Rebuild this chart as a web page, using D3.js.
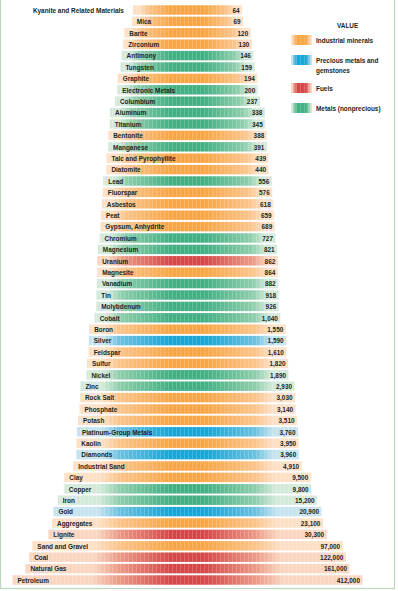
<!DOCTYPE html>
<html>
<head>
<meta charset="utf-8">
<script src="https://cdn.jsdelivr.net/npm/d3@7"></script>
<style>
  html, body { margin: 0; padding: 0; background: #fff; }
  svg { display: block; }
  text { font-family: "Liberation Sans", Arial, sans-serif; }
</style>
</head>
<body>
<svg id="chart" width="398" height="591"></svg>
<script>
// ---- data ----
const categories = [
  "Kyanite and Related Materials", "Mica", "Barite", "Zirconium", "Antimony", "Tungsten",
  "Graphite", "Electronic Metals", "Columbium", "Aluminum", "Titanium", "Bentonite",
  "Manganese", "Talc and Pyrophyllite", "Diatomite", "Lead", "Fluorspar", "Asbestos",
  "Peat", "Gypsum, Anhydrite", "Chromium", "Magnesium", "Uranium", "Magnesite",
  "Vanadium", "Tin", "Molybdenum", "Cobalt", "Boron", "Silver", "Feldspar", "Sulfur",
  "Nickel", "Zinc", "Rock Salt", "Phosphate", "Potash", "Platinum-Group Metals",
  "Kaolin", "Diamonds", "Industrial Sand", "Clay", "Copper", "Iron", "Gold",
  "Aggregates", "Lignite", "Sand and Gravel", "Coal", "Natural Gas", "Petroleum"
];
const values = [
  64, 69, 120, 130, 146, 159,
  194, 200, 237, 338, 345, 388,
  391, 439, 440, 556, 576, 618,
  659, 689, 727, 821, 862, 864,
  882, 918, 926, 1040, 1550, 1590, 1610, 1820,
  1890, 2930, 3030, 3140, 3510, 3760,
  3950, 3960, 4910, 9500, 9800, 15200, 20900,
  23100, 30300, 97000, 122000, 161000, 412000
];
// I = industrial minerals, P = precious metals and gemstones, F = fuels, M = metals (nonprecious)
const groups = [
  "I", "I", "I", "I", "M", "M",
  "I", "M", "M", "M", "M", "I",
  "M", "I", "I", "M", "I", "I",
  "I", "I", "M", "M", "F", "I",
  "M", "M", "M", "M", "I", "P", "I", "I",
  "M", "M", "I", "I", "I", "P",
  "I", "P", "I", "I", "M", "M", "P",
  "I", "F", "I", "F", "F", "F"
];
const legendKeys = ["I", "P", "F", "M"];
const legendLabels = [["Industrial minerals"], ["Precious metals and", "gemstones"], ["Fuels"], ["Metals (nonprecious)"]];
const legendTitle = "VALUE";

// ---- styles ----
const palette = {
  I: { pale: "#fde0c6", mid: "#fbc48a", core: "#f8a645" },
  P: { pale: "#c6e4ef", mid: "#6ec1e0", core: "#17a6d6" },
  F: { pale: "#fad6c0", mid: "#eb9a86", core: "#d6474a" },
  M: { pale: "#d3eadb", mid: "#8fceac", core: "#43b084" }
};

const data = categories.map((c, i) => ({ name: c, value: values[i], group: groups[i], idx: i }));

const svg = d3.select("#chart");
const defs = svg.append("defs");

// border
svg.append("rect")
  .attr("x", 0.5).attr("y", -2)
  .attr("width", 394).attr("height", 590.5)
  .attr("fill", "none").attr("stroke", "#bcd6c0").attr("stroke-width", 1.2);

const cx = 187.5;
const wScale = d3.scaleLog().domain([1.2, 412000]).range([0, 350]);
const y = d3.scaleBand().domain(categories).range([4.3, 585.7]).paddingInner(0.17).paddingOuter(0.085);

function addGradient(id, key, width) {
  const p = palette[key];
  const core = Math.min(0.2, 17 / width);
  const midR = Math.min(0.36, 68 / width);
  const g = defs.append("linearGradient").attr("id", id)
    .attr("x1", "0%").attr("x2", "100%").attr("y1", "0%").attr("y2", "0%");
  const stops = [
    [0, p.pale], [0.5 - midR - 0.08, p.pale], [0.5 - midR, p.mid], [0.5 - core, p.core],
    [0.5 + core, p.core], [0.5 + midR, p.mid], [0.5 + midR + 0.08, p.pale], [1, p.pale]
  ];
  stops.forEach(([o, c]) => g.append("stop").attr("offset", Math.max(0, Math.min(1, o))).attr("stop-color", c));
}

// stripe pattern overlay (texture)
const pat = defs.append("pattern").attr("id", "stripes").attr("patternUnits", "userSpaceOnUse")
  .attr("width", 4).attr("height", 4);
pat.append("rect").attr("x", 0).attr("y", 0).attr("width", 1).attr("height", 4).attr("fill", "#fff").attr("opacity", 0.18);

const rows = svg.append("g").selectAll("g").data(data).join("g");

rows.each(function(d) {
  const w = wScale(d.value);
  d.w = w; d.x0 = cx - w / 2;
  addGradient("g" + d.idx, d.group, w);
});

rows.append("rect")
  .attr("x", d => d.x0).attr("y", d => y(d.name))
  .attr("width", d => d.w).attr("height", y.bandwidth())
  .attr("fill", d => `url(#g${d.idx})`);

rows.append("rect")
  .attr("x", d => d.x0).attr("y", d => y(d.name))
  .attr("width", d => d.w).attr("height", y.bandwidth())
  .attr("fill", "url(#stripes)");

const fmt = d3.format(",");
const fs = 7.6;

// condensation factor: emulate a condensed face by compressing glyphs
const probe = svg.append("text").attr("font-size", fs).attr("font-weight", "bold").text(categories[0]);
const squeeze = 91 / probe.node().getComputedTextLength();
probe.remove();
function condense(sel) {
  sel.each(function() {
    const len = this.getComputedTextLength();
    d3.select(this).attr("textLength", len * squeeze).attr("lengthAdjust", "spacingAndGlyphs");
  });
}

rows.append("text")
  .attr("class", "val")
  .attr("x", d => d.x0 + d.w - 2.5)
  .attr("y", d => y(d.name) + y.bandwidth() / 2 + 2.7)
  .attr("text-anchor", "end")
  .attr("font-size", fs).attr("font-weight", "bold").attr("fill", "#231f20")
  .text(d => fmt(d.value))
  .call(condense);

rows.append("text")
  .attr("class", "lab")
  .attr("x", d => d.x0 + 5)
  .attr("y", d => y(d.name) + y.bandwidth() / 2 + 2.7)
  .attr("font-size", fs).attr("font-weight", "bold").attr("fill", "#231f20")
  .text(d => d.name)
  .call(condense)
  .each(function(d) {
    const len = +d3.select(this).attr("textLength");
    if (d.x0 + 5 + len > d.x0 + d.w - 28) {
      d3.select(this).attr("x", d.x0 - 9).attr("text-anchor", "end");
    }
  });

// ---- legend ----
const lg = svg.append("g");
lg.append("text").attr("x", 337).attr("y", 27.5)
  .attr("font-size", fs).attr("font-weight", "bold").attr("fill", "#231f20").text(legendTitle)
  .call(condense);

const legendY = [35, 55, 83, 103];
legendKeys.forEach((k, i) => {
  addGradient("lg" + k, k, 21 * 3);
  lg.append("rect").attr("x", 291).attr("y", legendY[i]).attr("width", 21).attr("height", 10)
    .attr("fill", `url(#lg${k})`);
  lg.append("rect").attr("x", 291).attr("y", legendY[i]).attr("width", 21).attr("height", 10)
    .attr("fill", "url(#stripes)");
  legendLabels[i].forEach((line, j) => {
    lg.append("text").attr("x", 316).attr("y", legendY[i] + 7.5 + j * 10)
      .attr("font-size", fs).attr("font-weight", "bold").attr("fill", "#231f20").text(line)
      .call(condense);
  });
});
</script>
</body>
</html>
